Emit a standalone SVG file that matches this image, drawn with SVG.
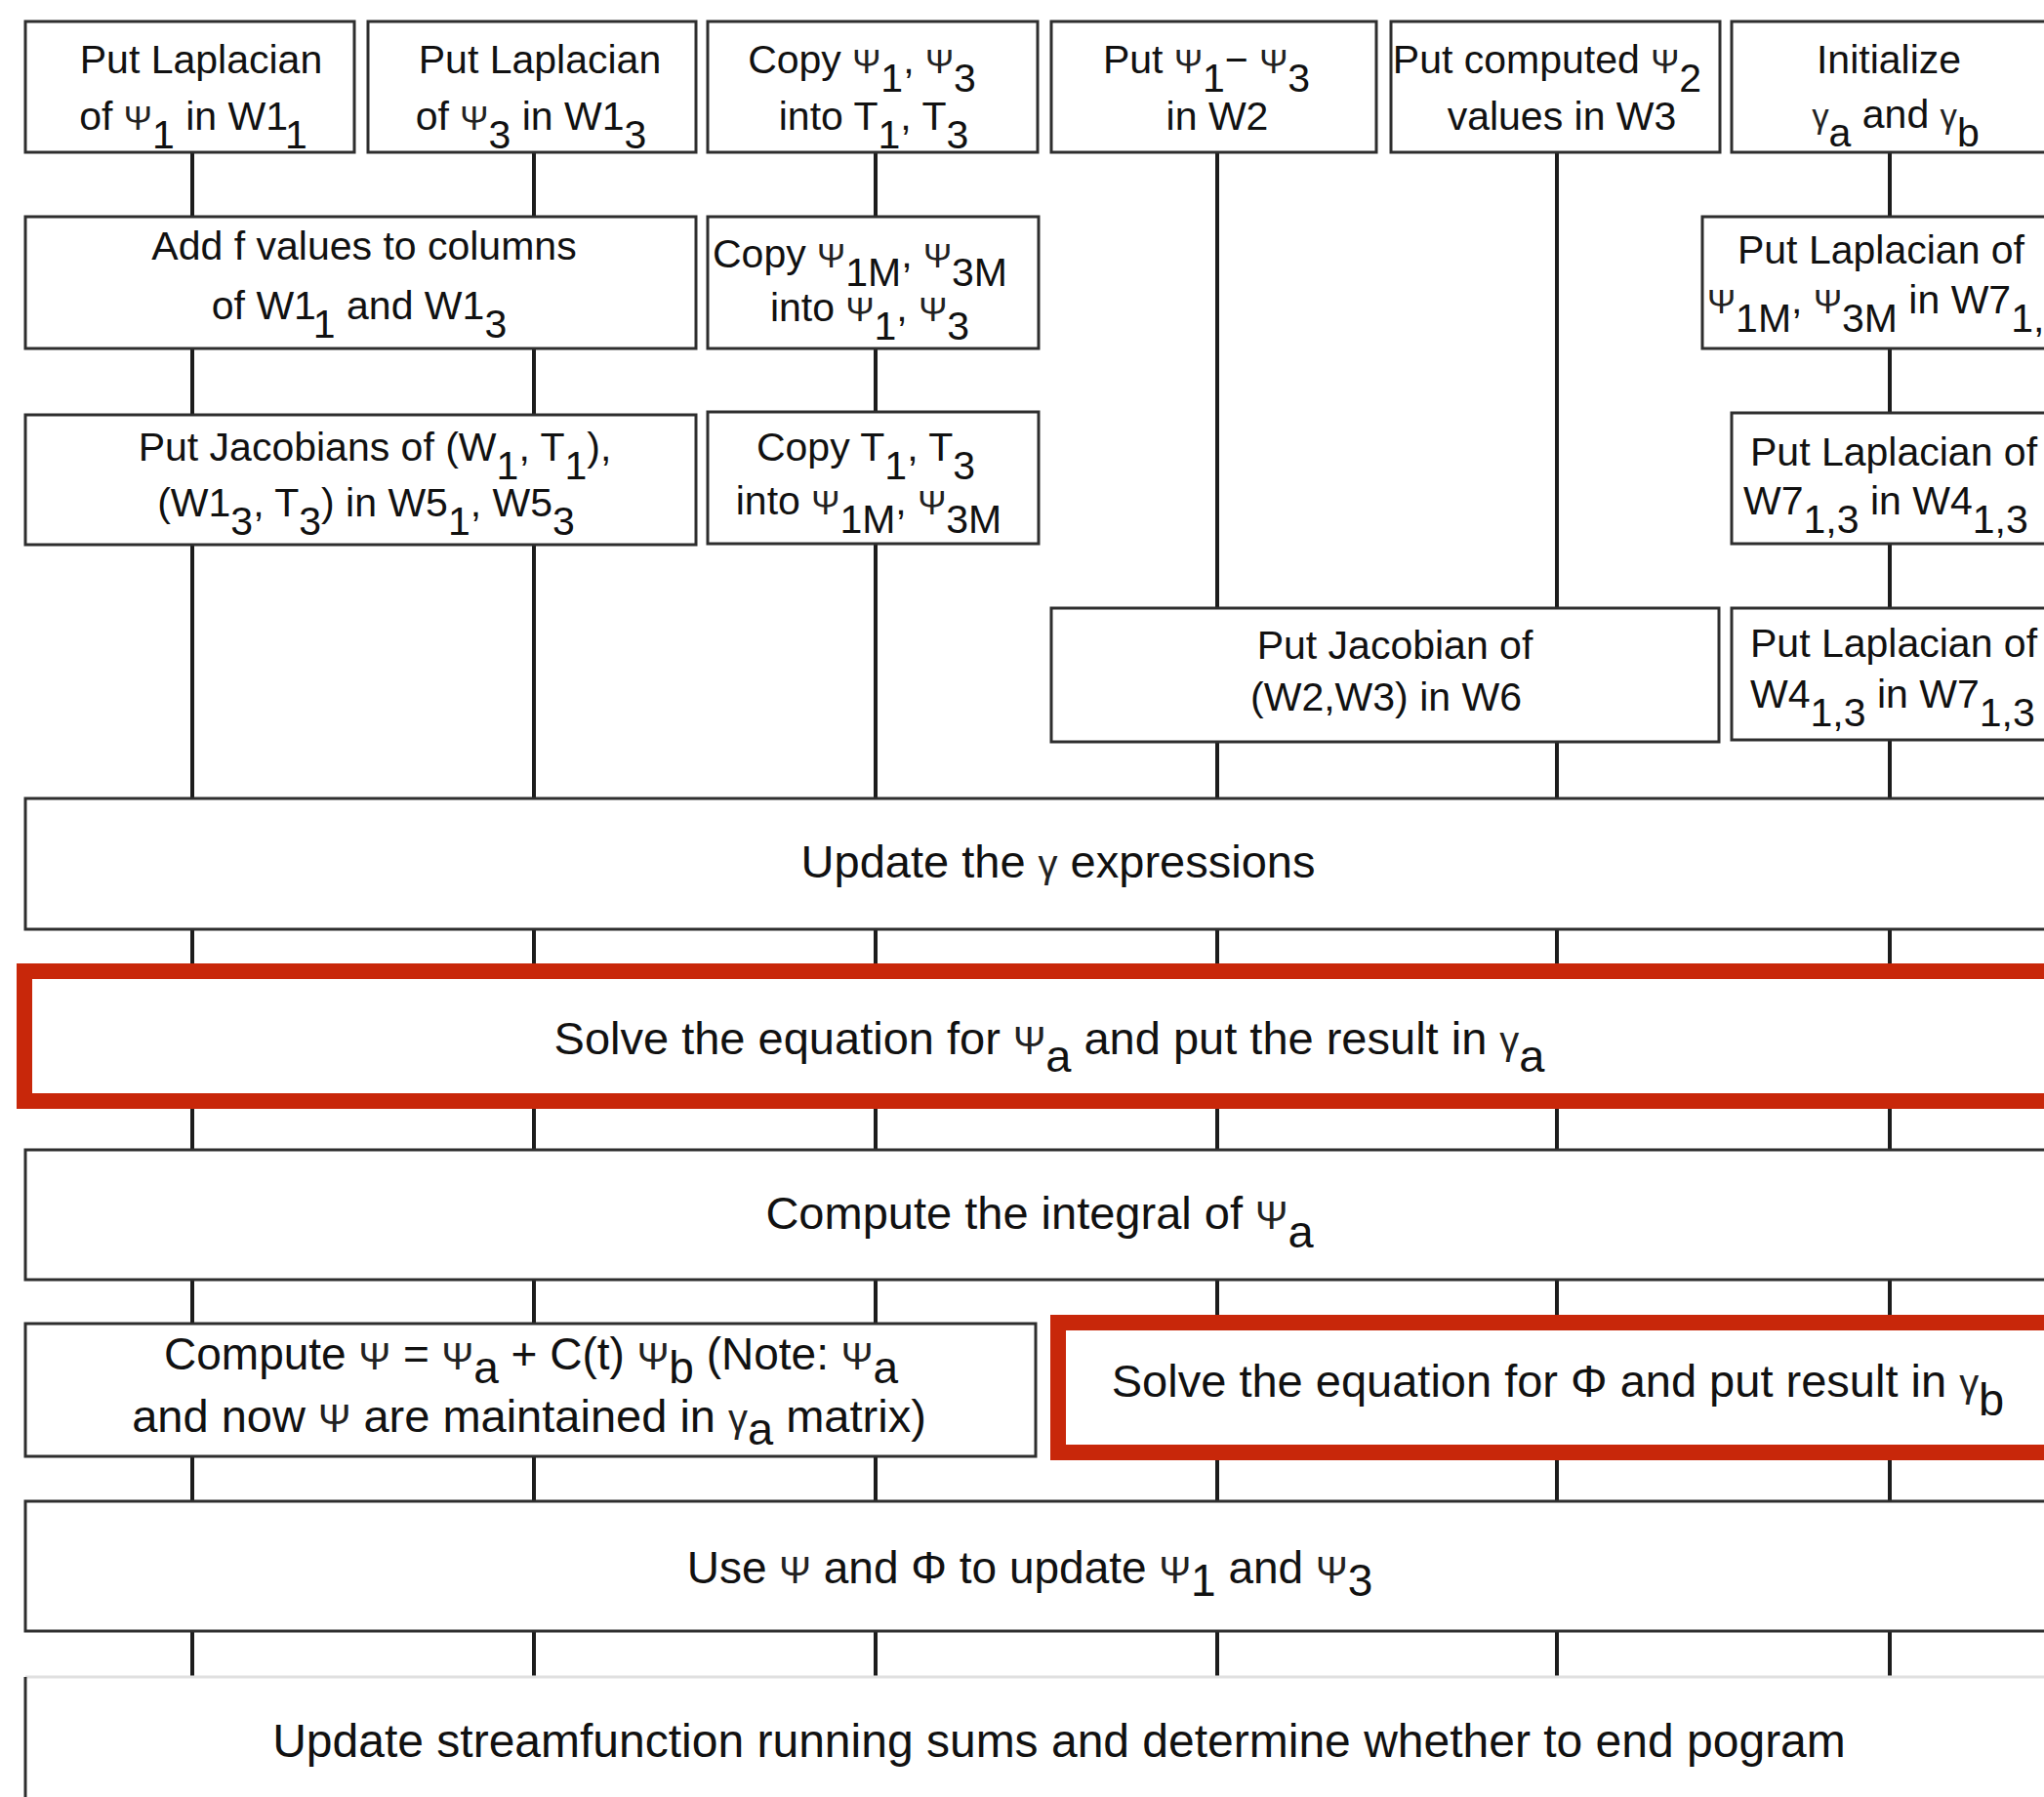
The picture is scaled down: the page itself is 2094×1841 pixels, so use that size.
<svg xmlns="http://www.w3.org/2000/svg" width="2094" height="1841" viewBox="0 0 2094 1841">
  <style>
    .box { fill: #ffffff; stroke: #2e2e2e; stroke-width: 3; }
    .hl { fill: #ffffff; stroke: #c8270a; stroke-width: 16; }
    .wire { stroke: #1c1c1c; stroke-width: 4; fill: none; }
    .t { font-family: "Liberation Sans", Arial, Helvetica, sans-serif; font-size: 41px; fill: #111111; text-anchor: middle; }
    .w { font-size: 47px; }
    .l { text-anchor: start; }
    .g { font-size: 0.85em; fill: #222222; }
  </style>

  <rect width="2094" height="1841" fill="#ffffff"/>

  <!-- column connectors, drawn first so boxes sit on top -->
  <g id="connectors">
    <!-- column 1 -->
    <path class="wire" d="M197 156V222M197 357V425M197 558V818M197 952V995M197 1128V1178M197 1311V1356M197 1492V1538M197 1671V1718"/>
    <!-- column 2 -->
    <path class="wire" d="M547 156V222M547 357V425M547 558V818M547 952V995M547 1128V1178M547 1311V1356M547 1492V1538M547 1671V1718"/>
    <!-- column 3 -->
    <path class="wire" d="M897 156V222M897 357V422M897 557V818M897 952V995M897 1128V1178M897 1311V1356M897 1492V1538M897 1671V1718"/>
    <!-- column 4 -->
    <path class="wire" d="M1247 156V623M1247 760V818M1247 952V995M1247 1128V1178M1247 1311V1355M1247 1488V1538M1247 1671V1718"/>
    <!-- column 5 -->
    <path class="wire" d="M1595 156V623M1595 760V818M1595 952V995M1595 1128V1178M1595 1311V1355M1595 1488V1538M1595 1671V1718"/>
    <!-- column 6 -->
    <path class="wire" d="M1936 156V222M1936 357V423M1936 557V623M1936 758V818M1936 952V995M1936 1128V1178M1936 1311V1355M1936 1488V1538M1936 1671V1718"/>
  </g>

  <!-- top row -->
  <g id="lap-psi1">
    <rect class="box" x="26" y="22" width="337" height="134"/>
    <text class="t" x="206" y="75">Put Laplacian</text>
    <text class="t" x="198" y="133">of <tspan class="g">Ψ</tspan><tspan dy="19">1</tspan><tspan dy="-19"> in W1</tspan><tspan dy="19">1</tspan></text>
  </g>
  <g id="lap-psi3">
    <rect class="box" x="377" y="22" width="336" height="134"/>
    <text class="t" x="553" y="75">Put Laplacian</text>
    <text class="t" x="544" y="133">of <tspan class="g">Ψ</tspan><tspan dy="19">3</tspan><tspan dy="-19"> in W1</tspan><tspan dy="19">3</tspan></text>
  </g>
  <g id="copy-psi-t">
    <rect class="box" x="725" y="22" width="338" height="134"/>
    <text class="t" x="883" y="75">Copy <tspan class="g">Ψ</tspan><tspan dy="19">1</tspan><tspan dy="-19">, </tspan><tspan class="g">Ψ</tspan><tspan dy="19">3</tspan></text>
    <text class="t" x="895" y="133">into T<tspan dy="19">1</tspan><tspan dy="-19">, T</tspan><tspan dy="19">3</tspan></text>
  </g>
  <g id="put-w2">
    <rect class="box" x="1077" y="22" width="333" height="134"/>
    <text class="t" x="1236" y="75">Put <tspan class="g">Ψ</tspan><tspan dy="19">1</tspan><tspan dy="-19">− </tspan><tspan class="g">Ψ</tspan><tspan dy="19">3</tspan></text>
    <text class="t" x="1247" y="133">in W2</text>
  </g>
  <g id="put-w3">
    <rect class="box" x="1425" y="22" width="337" height="134"/>
    <text class="t" x="1585" y="75">Put computed <tspan class="g">Ψ</tspan><tspan dy="19">2</tspan></text>
    <text class="t" x="1600" y="133">values in W3</text>
  </g>
  <g id="init-gamma">
    <rect class="box" x="1774" y="22" width="340" height="134"/>
    <text class="t" x="1935" y="75">Initialize</text>
    <text class="t" x="1942" y="131"><tspan class="g">γ</tspan><tspan dy="19">a</tspan><tspan dy="-19"> and </tspan><tspan class="g">γ</tspan><tspan dy="19">b</tspan></text>
  </g>

  <!-- second row -->
  <g id="add-f">
    <rect class="box" x="26" y="222" width="687" height="135"/>
    <text class="t" x="373" y="266">Add f values to columns</text>
    <text class="t" x="368" y="327">of W1<tspan dy="19">1</tspan><tspan dy="-19"> and W1</tspan><tspan dy="19">3</tspan></text>
  </g>
  <g id="copy-psim-psi">
    <rect class="box" x="725" y="222" width="339" height="135"/>
    <text class="t" x="881" y="274">Copy <tspan class="g">Ψ</tspan><tspan dy="19">1M</tspan><tspan dy="-19">, </tspan><tspan class="g">Ψ</tspan><tspan dy="19">3M</tspan></text>
    <text class="t" x="891" y="329">into <tspan class="g">Ψ</tspan><tspan dy="19">1</tspan><tspan dy="-19">, </tspan><tspan class="g">Ψ</tspan><tspan dy="19">3</tspan></text>
  </g>
  <g id="lap-psim-w7">
    <rect class="box" x="1744" y="222" width="370" height="135"/>
    <text class="t" x="1927" y="270">Put Laplacian of</text>
    <text class="t l" x="1749" y="321"><tspan class="g">Ψ</tspan><tspan dy="19">1M</tspan><tspan dy="-19">, </tspan><tspan class="g">Ψ</tspan><tspan dy="19">3M</tspan><tspan dy="-19"> in W7</tspan><tspan dy="19">1,3</tspan></text>
  </g>

  <!-- third row -->
  <g id="jacobians-w5">
    <rect class="box" x="26" y="425" width="687" height="133"/>
    <text class="t" x="384" y="472">Put Jacobians of (W<tspan dy="19">1</tspan><tspan dy="-19">, T</tspan><tspan dy="19">1</tspan><tspan dy="-19">),</tspan></text>
    <text class="t" x="375" y="529">(W1<tspan dy="19">3</tspan><tspan dy="-19">, T</tspan><tspan dy="19">3</tspan><tspan dy="-19">) in W5</tspan><tspan dy="19">1</tspan><tspan dy="-19">, W5</tspan><tspan dy="19">3</tspan></text>
  </g>
  <g id="copy-t-psim">
    <rect class="box" x="725" y="422" width="339" height="135"/>
    <text class="t" x="887" y="472">Copy T<tspan dy="19">1</tspan><tspan dy="-19">, T</tspan><tspan dy="19">3</tspan></text>
    <text class="t" x="890" y="527">into <tspan class="g">Ψ</tspan><tspan dy="19">1M</tspan><tspan dy="-19">, </tspan><tspan class="g">Ψ</tspan><tspan dy="19">3M</tspan></text>
  </g>
  <g id="lap-w7-w4">
    <rect class="box" x="1774" y="423" width="340" height="134"/>
    <text class="t l" x="1793" y="477">Put Laplacian of</text>
    <text class="t l" x="1786" y="527">W7<tspan dy="19">1,3</tspan><tspan dy="-19"> in W4</tspan><tspan dy="19">1,3</tspan></text>
  </g>

  <!-- fourth row -->
  <g id="jacobian-w6">
    <rect class="box" x="1077" y="623" width="684" height="137"/>
    <text class="t" x="1429" y="675">Put Jacobian of</text>
    <text class="t" x="1420" y="728">(W2,W3) in W6</text>
  </g>
  <g id="lap-w4-w7">
    <rect class="box" x="1774" y="623" width="340" height="135"/>
    <text class="t l" x="1793" y="673">Put Laplacian of</text>
    <text class="t l" x="1793" y="725">W4<tspan dy="19">1,3</tspan><tspan dy="-19"> in W7</tspan><tspan dy="19">1,3</tspan></text>
  </g>

  <!-- full-width stages -->
  <g id="update-gamma">
    <rect class="box" x="26" y="818" width="2110" height="134"/>
    <text class="t w" x="1084" y="899">Update the <tspan class="g">γ</tspan> expressions</text>
  </g>
  <g id="solve-psia">
    <rect class="hl" x="25" y="995" width="2120" height="133"/>
    <text class="t w" x="1075" y="1080">Solve the equation for <tspan class="g">Ψ</tspan><tspan dy="18">a</tspan><tspan dy="-18"> and put the result in </tspan><tspan class="g">γ</tspan><tspan dy="18">a</tspan></text>
  </g>
  <g id="integral">
    <rect class="box" x="26" y="1178" width="2110" height="133"/>
    <text class="t w" x="1065" y="1259">Compute the integral of <tspan class="g">Ψ</tspan><tspan dy="19">a</tspan></text>
  </g>
  <g id="compute-psi">
    <rect class="box" x="26" y="1356" width="1035" height="136"/>
    <text class="t w" x="544" y="1403" style="font-size:46px">Compute <tspan class="g">Ψ</tspan> = <tspan class="g">Ψ</tspan><tspan dy="14">a</tspan><tspan dy="-14"> + C(t) </tspan><tspan class="g">Ψ</tspan><tspan dy="14">b</tspan><tspan dy="-14"> (Note: </tspan><tspan class="g">Ψ</tspan><tspan dy="14">a</tspan></text>
    <text class="t w" x="542" y="1467">and now <tspan class="g">Ψ</tspan> are maintained in <tspan class="g">γ</tspan><tspan dy="13">a</tspan><tspan dy="-13"> matrix)</tspan></text>
  </g>
  <g id="solve-phi">
    <rect class="hl" x="1084" y="1355" width="1050" height="133"/>
    <text class="t w" x="1596" y="1431">Solve the equation for <tspan>Φ</tspan> and put result in <tspan class="g">γ</tspan><tspan dy="19">b</tspan></text>
  </g>
  <g id="update-psi">
    <rect class="box" x="26" y="1538" width="2110" height="133"/>
    <text class="t w" x="1055" y="1622" style="font-size:46px">Use <tspan class="g">Ψ</tspan> and Φ to update <tspan class="g">Ψ</tspan><tspan dy="13">1</tspan><tspan dy="-13"> and </tspan><tspan class="g">Ψ</tspan><tspan dy="13">3</tspan></text>
  </g>
  <g id="running-sums">
    <rect x="26" y="1718" width="2110" height="140" fill="#ffffff"/>
    <line x1="26" y1="1718" x2="2094" y2="1718" stroke="#e0e0e0" stroke-width="3"/>
    <line x1="26" y1="1718" x2="26" y2="1841" stroke="#2e2e2e" stroke-width="3"/>
    <text class="t w" x="1085" y="1800" style="font-size:48px">Update streamfunction running sums and determine whether to end pogram</text>
  </g>
</svg>
